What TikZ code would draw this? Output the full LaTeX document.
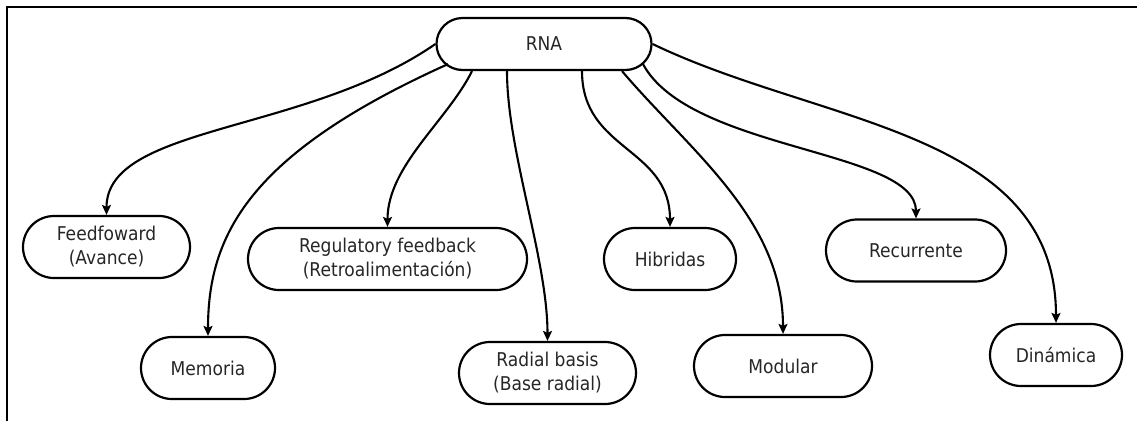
\documentclass[tikz,border=0pt]{standalone}
\usepackage{fontspec}
\setmainfont{DejaVu Sans}[FakeStretch=0.9]
\usetikzlibrary{arrows.meta}

\begin{document}
\begin{tikzpicture}[x=1pt,y=1pt,
  box/.style={draw, line width=2.2pt, rounded corners=31pt, inner sep=0pt,
    minimum height=62pt, align=center, text=black!85,
    font=\fontsize{19}{24}\selectfont},
  conn/.style={line width=2.1pt, -{Stealth[length=10pt,width=9pt,inset=2pt]}},
  frame/.style={line width=2.4pt}]
\useasboundingbox (0,0) rectangle (1137,-421);

% open frame: top and left edges
\draw[frame] (7,-421) -- (7,-7) -- (1137,-7);

% root and categories
\node[box, minimum width=215pt, minimum height=52pt, rounded corners=26pt] (rna) at (544,-44) {RNA};
\node[box, minimum width=167pt] (ff)  at (106.5,-247) {Feedfoward\\(Avance)};
\node[box, minimum width=134pt] (mem) at (208,-368)   {Memoria};
\node[box, minimum width=279pt] (reg) at (387.5,-259) {Regulatory feedback\\(Retroalimentación)};
\node[box, minimum width=177pt] (rad) at (547.5,-373) {Radial basis\\(Base radial)};
\node[box, minimum width=132pt] (hib) at (670,-259)   {Hibridas};
\node[box, minimum width=178pt] (mod) at (783,-366)   {Modular};
\node[box, minimum width=180pt] (rec) at (916,-250.5) {Recurrente};
\node[box, minimum width=132pt] (din) at (1056,-355)  {Dinámica};

% curved connectors from the root
\draw[conn] (rna.west) .. controls +(-130,-90) and +(0,90) .. (ff.north);
\draw[conn] ([shift={(-96,7)}]rna.south) .. controls +(-200,-90) and +(0,100) .. (mem.north);
\draw[conn] ([xshift=-72]rna.south) .. controls +(-25,-50) and +(0,61) .. (reg.north);
\draw[conn] ([xshift=-37]rna.south) .. controls +(0,-80) and +(0,82) .. (rad.north);
\draw[conn] ([xshift=38]rna.south) .. controls +(0,-80) and +(0,80) .. (hib.north);
\draw[conn] ([xshift=78]rna.south) .. controls +(68,-80) and +(0,115) .. (mod.north);
\draw[conn] ([shift={(99,7)}]rna.south) .. controls +(47,-87) and +(0,69) .. (rec.north);
\draw[conn] (rna.east) .. controls +(168,-81) and +(0,193) .. (din.north);
\end{tikzpicture}
\end{document}
